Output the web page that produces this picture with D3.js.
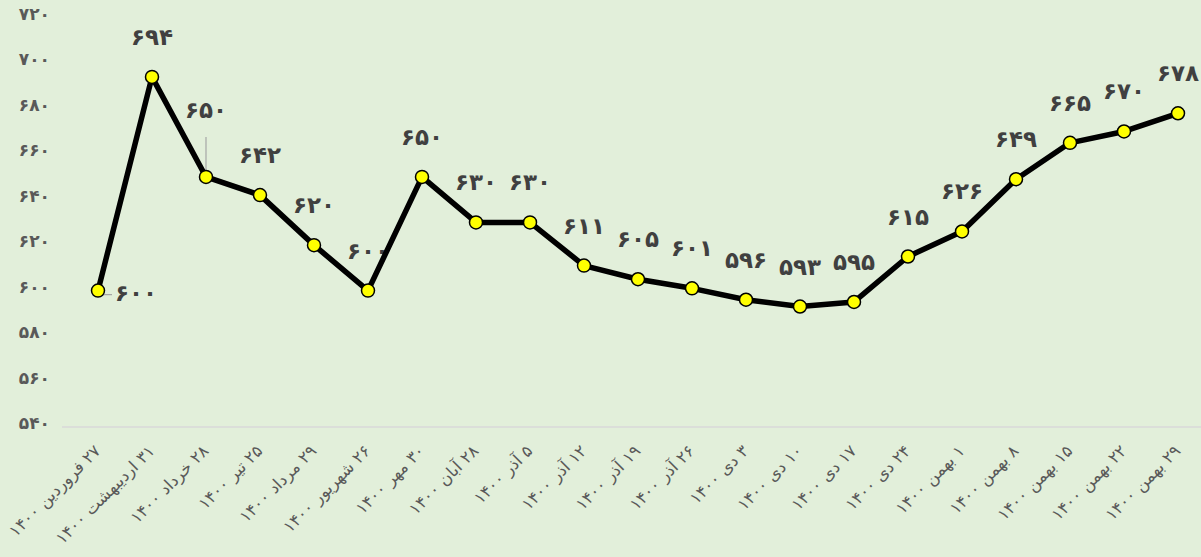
<!DOCTYPE html>
<html lang="fa">
<head>
<meta charset="utf-8">
<title>Price trend 1400</title>
<script src="https://cdn.jsdelivr.net/npm/d3@7"></script>
<style>
  html, body { margin: 0; padding: 0; background: #e2efda; }
  svg { display: block; }
  text { font-family: "DejaVu Sans", sans-serif; }
</style>
</head>
<body>
<script>
// categories (x axis labels)
var dates = [
  "۲۷ فروردین ۱۴۰۰", "۳۱ اردیبهشت ۱۴۰۰", "۲۸ خرداد ۱۴۰۰", "۲۵ تیر ۱۴۰۰",
  "۲۹ مرداد ۱۴۰۰", "۲۶ شهریور ۱۴۰۰", "۳۰ مهر ۱۴۰۰", "۲۸ آبان ۱۴۰۰",
  "۵ آذر ۱۴۰۰", "۱۲ آذر ۱۴۰۰", "۱۹ آذر ۱۴۰۰", "۲۶ آذر ۱۴۰۰",
  "۳ دی ۱۴۰۰", "۱۰ دی ۱۴۰۰", "۱۷ دی ۱۴۰۰", "۲۴ دی ۱۴۰۰",
  "۱ بهمن ۱۴۰۰", "۸ بهمن ۱۴۰۰", "۱۵ بهمن ۱۴۰۰", "۲۲ بهمن ۱۴۰۰", "۲۹ بهمن ۱۴۰۰"
];
// series values
var values = [600, 694, 650, 642, 620, 600, 650, 630, 630, 611, 605, 601,
              596, 593, 595, 615, 626, 649, 665, 670, 678];
// y tick values
var yTicks = [540, 560, 580, 600, 620, 640, 660, 680, 700, 720];

var w = 1201, h = 557;

// latin digits -> persian digits
function fa(n) {
  return String(n).replace(/[0-9]/g, function(c) {
    return String.fromCharCode(0x06F0 + (+c));
  });
}

var xScale = d3.scalePoint()
  .domain(dates)
  .range([71, 1205])
  .padding(0.5);

var yScale = d3.scaleLinear()
  .domain([540, 720])
  .range([427, 17.8]);

var svg = d3.select("body").append("svg")
  .attr("width", w)
  .attr("height", h);

svg.append("rect")
  .attr("width", w).attr("height", h)
  .attr("fill", "#e2efda");

// y axis: labels only
var yAxis = d3.axisLeft(yScale).tickValues(yTicks).tickSize(0).tickFormat(fa);
var gy = svg.append("g")
  .attr("transform", "translate(50,0)")
  .call(yAxis);
gy.select(".domain").remove();
gy.selectAll("text")
  .attr("x", 0)
  .attr("dy", "0.1em")
  .attr("font-size", 17)
  .attr("font-weight", "bold")
  .attr("fill", "#595959")
  .attr("font-family", "DejaVu Sans, sans-serif");

// x axis line
svg.append("line")
  .attr("x1", 62).attr("x2", w)
  .attr("y1", yScale(540)).attr("y2", yScale(540))
  .attr("stroke", "#d9d9d9")
  .attr("stroke-width", 1.5);

// x axis labels, rotated
var xAxis = d3.axisBottom(xScale).tickSize(0).tickFormat(function(d) { return d; });
var gx = svg.append("g")
  .attr("transform", "translate(0," + yScale(540) + ")")
  .call(xAxis);
gx.select(".domain").remove();
gx.selectAll(".tick text")
  .attr("x", 0)
  .attr("y", 0)
  .attr("dy", 0)
  .attr("direction", "rtl")
  .attr("text-anchor", "start")
  .attr("transform", "translate(3,25) rotate(-45)")
  .attr("font-size", 16.5)
  .attr("fill", "#595959")
  .attr("font-family", "DejaVu Sans Condensed, DejaVu Sans, sans-serif");

var pts = dates.map(function(d, i) { return { date: d, value: values[i], i: i }; });

// data labels (drawn under the line)
var labelG = svg.append("g").attr("id", "labels");

// leader lines for the two moved labels
var p0 = pts[0], p2 = pts[2];
labelG.append("polyline")
  .attr("points", [
    [xScale(p0.date) + 2, yScale(p0.value)],
    [xScale(p0.date) + 2, yScale(p0.value) + 4],
    [xScale(p0.date) + 14, yScale(p0.value) + 4]
  ].join(" "))
  .attr("fill", "none")
  .attr("stroke", "#a6a6a6")
  .attr("stroke-width", 1.2);
labelG.append("line")
  .attr("x1", xScale(p2.date)).attr("x2", xScale(p2.date))
  .attr("y1", yScale(p2.value) - 40).attr("y2", yScale(p2.value))
  .attr("stroke", "#a6a6a6")
  .attr("stroke-width", 1.2);

labelG.selectAll("text")
  .data(pts)
  .enter()
  .append("text")
  .text(function(d) { return fa(d.value); })
  .attr("x", function(d) {
    if (d.i === 0) return xScale(d.date) + 38;
    return xScale(d.date);
  })
  .attr("y", function(d) {
    if (d.i === 0) return yScale(d.value) + 2;
    if (d.i === 2) return yScale(d.value) - 67;
    return yScale(d.value) - 40;
  })
  .attr("text-anchor", "middle")
  .attr("dominant-baseline", "central")
  .attr("font-size", 23)
  .attr("font-weight", "bold")
  .attr("font-family", "DejaVu Sans Condensed, DejaVu Sans, sans-serif")
  .attr("fill", "#404040");

// line
var line = d3.line()
  .x(function(d) { return xScale(d.date); })
  .y(function(d) { return yScale(d.value); });

svg.append("path")
  .datum(pts)
  .attr("d", line)
  .attr("fill", "none")
  .attr("stroke", "#000")
  .attr("stroke-width", 5.5)
  .attr("stroke-linejoin", "round");

// markers
svg.append("g")
  .selectAll("circle")
  .data(pts)
  .enter()
  .append("circle")
  .attr("cx", function(d) { return xScale(d.date); })
  .attr("cy", function(d) { return yScale(d.value); })
  .attr("r", 6.5)
  .attr("fill", "#ffff00")
  .attr("stroke", "#000")
  .attr("stroke-width", 1.5);
</script>
</body>
</html>
